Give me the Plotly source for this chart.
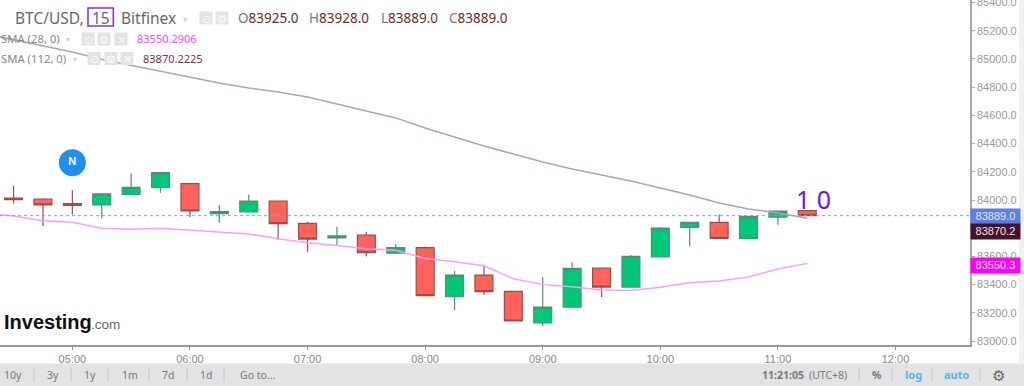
import plotly.graph_objects as go

times = ["04:30","04:45","05:00","05:15","05:30","05:45","06:00","06:15","06:30","06:45",
         "07:00","07:15","07:30","07:45","08:00","08:15","08:30","08:45","09:00","09:15",
         "09:30","09:45","10:00","10:15","10:30","10:45","11:00","11:15"]
opens  = [84014,84007,83974,83965,84040,84087,84116,83903,83915,83993,83835,83731,83752,83624,
          83662,83314,83468,83352,83128,83241,83518,83383,83596,83806,83842,83728,83879,83925]
highs  = [84099,84012,84071,84043,84189,84194,84116,83962,84038,83993,83846,83811,83773,83686,
          83671,83496,83541,83352,83452,83558,83518,83610,83806,83842,83898,83884,83922,83928]
lows   = [83976,83816,83898,83870,84040,84052,83877,83839,83915,83716,83634,83678,83600,83624,
          83322,83218,83326,83142,83106,83241,83312,83383,83596,83671,83728,83728,83825,83889]
closes = [84002,83965,83962,84043,84090,84194,83922,83917,83993,83832,83723,83745,83626,83662,
          83322,83468,83350,83142,83241,83515,83383,83600,83801,83842,83728,83884,83922,83889]

sma_times = ["04:15"] + times
sma28  = [83905,83887,83853,83842,83799,83792,83799,83785,83773,83759,83726,83697,83678,83655,83643,
          83586,83563,83534,83442,83400,83385,83362,83359,83381,83414,83426,83454,83511,83550]
sma112 = [85180,85135,85092,85050,84996,84954,84915,84872,84830,84794,84766,84730,84681,84631,84582,
          84511,84447,84383,84326,84270,84220,84177,84135,84085,84035,83979,83936,83908,83870]

y_ticks = [83000,83200,83400,83600,84000,84200,84400,84600,84800,85000,85200,85400]
toolbar_left = ["10y","3y","1y","1m","7d","1d","Go to..."]
last_close, last_sma112, last_sma28 = 83889.0, 83870.2, 83550.3

W, H = 1024, 386
PW, PH = 970, 345
DAY = "2024-01-01 "
F = "Noto Sans, Open Sans, sans-serif"
AX = "Liberation Sans, Arial, sans-serif"

def px(x): return x / PW
def py(y): return 1 - y / PH

fig = go.Figure()
fig.add_trace(go.Scatter(x=[DAY + t for t in sma_times], y=sma112, mode="lines",
                         line=dict(color="#b8a0a8", width=1.5), hoverinfo="skip"))
fig.add_trace(go.Scatter(x=[DAY + t for t in sma_times], y=sma28, mode="lines",
                         line=dict(color="#ff9cf5", width=1.5), hoverinfo="skip"))
fig.add_trace(go.Candlestick(
    x=[DAY + t for t in times], open=opens, high=highs, low=lows, close=closes,
    whiskerwidth=0,
    increasing=dict(fillcolor="#00c878", line=dict(color="#4f8f76", width=1.2)),
    decreasing=dict(fillcolor="#ff6259", line=dict(color="#96504c", width=1.2)),
))
fig.add_trace(go.Scatter(x=[DAY + "05:00"], y=[84265], mode="markers+text", text=["<b>N</b>"],
                         textposition="middle center",
                         textfont=dict(color="white", size=11, family=AX),
                         marker=dict(size=27, color="#1e90f0"), hoverinfo="skip"))

shapes = [
    dict(type="line", xref="paper", yref="y", x0=0, x1=1, y0=last_close, y1=last_close,
         line=dict(color="#7f9bee", width=1, dash="dot")),
    dict(type="rect", xref="paper", yref="paper", x0=0, x1=px(W), y0=py(363.5), y1=py(H),
         fillcolor="#e3e3e5", line_width=0),
    dict(type="rect", xref="paper", yref="paper", x0=px(1019), x1=px(W), y0=py(0), y1=py(363.5),
         fillcolor="#f1f1f3", line_width=0),
    dict(type="rect", xref="paper", yref="paper", x0=px(264/3), x1=px(340/3), y0=py(8), y1=py(26),
         line=dict(color="#7b2cf5", width=1.5)),
]
for sx in [34, 71, 108, 149, 187, 224, 859, 892, 932, 980]:
    shapes.append(dict(type="line", xref="paper", yref="paper", x0=px(sx), x1=px(sx),
                       y0=py(367), y1=py(382), line=dict(color="#c4c4c6", width=1)))
# indicator control buttons
buttons = [(206, 18, "⊙"), (222, 18, "⚙"), (88, 39, "⊙"), (104, 39, "⚙"), (121, 39, "✕"),
           (94, 58.5, "⊙"), (111, 58.5, "⚙"), (127, 58.5, "✕")]
for bx, by, _ in buttons:
    shapes.append(dict(type="rect", xref="paper", yref="paper", x0=px(bx-6.5), x1=px(bx+6.5),
                       y0=py(by-6.5), y1=py(by+6.5), fillcolor="#e3e3e3", line_width=0))

ann = []
def t(x, y, s, size=12, color="#666", anchor="left", family=F, **kw):
    ann.append(dict(xref="paper", yref="paper", x=px(x), y=py(y), text=s, showarrow=False,
                    xanchor=anchor, yanchor="middle", font=dict(size=size, color=color, family=family),
                    borderpad=0, **kw))

t(14, 18, "BTC/USD,", 15.5, "#666")
t(101, 18, "15", 15.5, "#666", "center")
t(120, 18, "Bitfinex", 15.5, "#666")
t(182, 18, "▾", 8, "#ccc")
for label, val, x0 in [("O", "83925.0", 237), ("H", "83928.0", 308), ("L", "83889.0", 380), ("C", "83889.0", 448)]:
    t(x0, 18, f"<span style='color:#777'>{label}</span>{val}", 13.5, "#6e2b25")
t(0, 38.5, "SMA (28, 0)", 11.3, "#888")
t(65, 38.5, "▾", 8, "#ccc")
t(136, 38.5, "83550.2906", 11, "#ff40ff")
t(0, 58.5, "SMA (112, 0)", 11.3, "#888")
t(72, 58.5, "▾", 8, "#ccc")
t(142, 58.5, "83870.2225", 11, "#7a3055")
for bx, by, g in buttons:
    t(bx, by, g, 11, "#fafafa", "center")

t(3, 322, "<b>Investing</b>", 20, "#111", family=AX)
t(90, 324, ".com", 13.5, "#666", family=AX)
t(813, 199, "1 0", 25, "#6a10f5", "center")

for lbl, cx in zip(toolbar_left, [13, 53, 90, 130, 168, 206, 257]):
    t(cx, 374.5, lbl, 10.5, "#777", "center")
t(783, 374.5, "<b>11:21:05</b>", 10.5, "#777", "center")
t(828, 374.5, "(UTC+8)", 10.5, "#777", "center")
t(877, 374.5, "<b>%</b>", 10.5, "#777", "center")
t(913, 374.5, "<b>log</b>", 11, "#5ab4e6", "center")
t(957, 374.5, "<b>auto</b>", 11, "#5ab4e6", "center")
t(999, 374.5, "⚙", 15, "#666", "center")

for val, bg, cy in [(last_sma28, "#ff00ff", 265), (last_close, "#5b7fe6", 216.5), (last_sma112, "#47102c", 231.5)]:
    ann.append(dict(xref="paper", yref="paper", x=px(970), y=py(cy), text=f"{val:.1f}", showarrow=False,
                    xanchor="left", yanchor="middle", width=49, height=14.5, align="center",
                    bgcolor=bg, borderpad=0, font=dict(size=11, color="#e8e8e8", family=AX)))

fig.update_layout(
    width=W, height=H, margin=dict(l=0, r=W-PW, t=0, b=H-PH, autoexpand=False),
    paper_bgcolor="white", plot_bgcolor="white", showlegend=False, boxgap=0.39, boxgroupgap=0,
    shapes=shapes, annotations=ann,
    xaxis=dict(type="date", rangeslider=dict(visible=False), automargin=False,
               range=[DAY + "04:23:05", DAY + "12:38:00"],
               tick0=DAY + "05:00", dtick=3600000, tickformat="%H:%M", showgrid=False, zeroline=False,
               ticks="outside", ticklen=3, tickcolor="#999", showline=True, linecolor="#999", linewidth=1.5,
               tickfont=dict(size=11, color="#888", family=AX)),
    yaxis=dict(side="right", range=[82972, 85418], tickvals=y_ticks, ticklabeloverflow="allow", automargin=False,
               ticktext=[f"{v:.1f}" for v in y_ticks], showgrid=False, zeroline=False,
               ticks="outside", ticklen=3, tickcolor="#aaa", showline=True, linecolor="#aaa", linewidth=1.5,
               tickfont=dict(size=11, color="#999", family=AX)),
)
fig.write_html("out.html", config=dict(displayModeBar=False),
               post_script="document.body.style.margin='0';")
